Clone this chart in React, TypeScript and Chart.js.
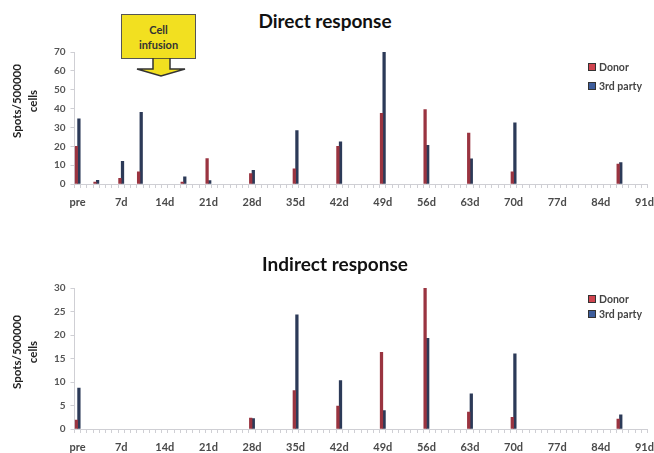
import React, { useEffect, useRef } from "react";
import { Chart, registerables } from "chart.js";

Chart.register(...registerables);

// Day index 0 = "pre", then days 1..91
const dayCount = 92;
const dayLabels = Array.from({ length: dayCount }, (_, i) => (i === 0 ? "pre" : `${i}d`));

// Direct response
const directDays = [0, 3, 7, 10, 17, 21, 28, 35, 42, 49, 56, 63, 70, 87];
const directDonor = [20, 1, 3, 6.5, 1, 13.5, 5.5, 8, 20, 37.5, 39.5, 27, 6.5, 10.5];
const directThird = [34.5, 2, 12, 38, 3.8, 1.8, 7.2, 28.3, 22.3, 70, 20.5, 13.3, 32.5, 11.3];

// Indirect response
const indirectDays = [0, 28, 35, 42, 49, 56, 63, 70, 87];
const indirectDonor = [1.9, 2.3, 8.2, 4.9, 16.3, 30.3, 3.6, 2.5, 2.1];
const indirectThird = [8.7, 2.2, 24.3, 10.3, 3.9, 19.3, 7.5, 16, 3];

const directYTicks = [0, 10, 20, 30, 40, 50, 60, 70];
const indirectYTicks = [0, 5, 10, 15, 20, 25, 30];

const seriesNames = ["Donor", "3rd party"];
const DONOR_COLOR = "#9a3440";
const THIRD_COLOR = "#2c3a58";
const FONT = "Lato, 'Open Sans', sans-serif";
const CANVAS_W = 680;

function spread(days: number[], vals: number[]) {
  const out: (number | null)[] = new Array(dayCount).fill(null);
  days.forEach((d, i) => (out[d] = vals[i]));
  return out;
}

function makeConfig(donor: number[], third: number[], days: number[], ticks: number[], xHeight: number, padTop: number): any {
  const max = ticks[ticks.length - 1];
  const step = ticks[1] - ticks[0];
  return {
    type: "bar",
    data: {
      labels: dayLabels,
      datasets: [
        {
          label: seriesNames[0],
          data: spread(days, donor),
          backgroundColor: DONOR_COLOR,
          borderWidth: 0,
          barThickness: 2.6,
          skipNull: true,
        },
        {
          label: seriesNames[1],
          data: spread(days, third),
          backgroundColor: THIRD_COLOR,
          borderWidth: 0,
          barThickness: 2.6,
          skipNull: true,
        },
      ],
    },
    options: {
      animation: false,
      responsive: false,
      layout: { padding: { left: 0, right: CANVAS_W - 647.5, top: padTop, bottom: 0 } },
      plugins: { legend: { display: false }, title: { display: false }, tooltip: { enabled: false } },
      scales: {
        x: {
          grid: {
            display: true,
            drawOnChartArea: false,
            drawTicks: true,
            tickLength: 4,
            color: "#cfcfd4",
            offset: true,
          },
          border: { display: true, color: "#cfcfd4", width: 1 },
          ticks: {
            autoSkip: false,
            maxRotation: 0,
            minRotation: 0,
            padding: 8,
            color: "#4a4a4a",
            font: { family: FONT, size: 11, weight: "bold" },
            callback: (_v: any, i: number) => (i % 7 === 0 ? dayLabels[i] : ""),
          },
          afterFit: (s: any) => {
            s.height = xHeight;
          },
        },
        y: {
          min: 0,
          max: max,
          grid: { display: true, drawOnChartArea: false, drawTicks: true, tickLength: 4, color: "#cfcfd4" },
          border: { display: true, color: "#cfcfd4", width: 1 },
          ticks: {
            stepSize: step,
            padding: 5,
            color: "#555",
            font: { family: FONT, size: 10, weight: "bold" },
          },
          afterFit: (s: any) => {
            s.width = 74.5;
          },
        },
      },
    },
  };
}

function ChartCanvas({ config, top, height }: { config: any; top: number; height: number }) {
  const ref = useRef<HTMLCanvasElement>(null);
  useEffect(() => {
    if (!ref.current) return;
    const c = new Chart(ref.current, config);
    return () => c.destroy();
  }, []);
  return (
    <canvas
      ref={ref}
      width={CANVAS_W}
      height={height}
      style={{ position: "absolute", left: 0, top, width: CANVAS_W, height }}
    />
  );
}

function Legend({ top, gap }: { top: number; gap: number }) {
  const colors = ["#d0444f", "#3d5d9c"];
  return (
    <>
      {seriesNames.map((n, i) => (
        <div
          key={n}
          style={{
            position: "absolute",
            left: 588,
            top: top + i * gap - 7,
            height: 14,
            display: "flex",
            alignItems: "center",
            fontFamily: FONT,
            fontWeight: 700,
            fontSize: 10.5,
            color: "#444",
            whiteSpace: "nowrap",
          }}
        >
          <span
            style={{
              display: "inline-block",
              width: 6,
              height: 6,
              background: colors[i],
              border: "1px solid #333",
              marginRight: 3,
            }}
          />
          {n}
        </div>
      ))}
    </>
  );
}

function YTitle({ cx, cy }: { cx: number; cy: number }) {
  return (
    <div
      style={{
        position: "absolute",
        left: cx - 60,
        top: cy - 17,
        width: 120,
        height: 34,
        transform: "rotate(-90deg)",
        textAlign: "center",
        fontFamily: FONT,
        fontWeight: 700,
        fontSize: 11.5,
        lineHeight: "16px",
        color: "#222",
      }}
    >
      Spots/500000
      <br />
      cells
    </div>
  );
}

export default function App() {
  useEffect(() => {
    document.body.style.margin = "0";
  }, []);
  const topCfg = makeConfig(directDonor, directThird, directDays, directYTicks, 36, 12);
  const botCfg = makeConfig(indirectDonor, indirectThird, indirectDays, indirectYTicks, 24, 18);
  return (
    <div
      style={{
        position: "fixed",
        left: 0,
        top: 0,
        width: 654,
        height: 453,
        overflow: "hidden",
        background: "#fff",
      }}
    >
      <ChartCanvas config={topCfg} top={40} height={180} />
      <ChartCanvas config={botCfg} top={270} height={183} />

      <div
        style={{
          position: "absolute",
          left: 200,
          width: 250,
          top: 9,
          textAlign: "center",
          fontFamily: FONT,
          fontWeight: 700,
          fontSize: 19,
          color: "#111",
        }}
      >
        Direct response
      </div>
      <div
        style={{
          position: "absolute",
          left: 210,
          width: 250,
          top: 252,
          textAlign: "center",
          fontFamily: FONT,
          fontWeight: 700,
          fontSize: 19,
          color: "#111",
        }}
      >
        Indirect response
      </div>

      <YTitle cx={26} cy={101} />
      <YTitle cx={26} cy={352} />

      <Legend top={67} gap={19} />
      <Legend top={299} gap={15} />

      {/* Cell infusion callout */}
      <div
        style={{
          position: "absolute",
          left: 121,
          top: 14,
          width: 75,
          height: 45,
          boxSizing: "border-box",
          background: "#f2e020",
          border: "1px solid #555",
          display: "flex",
          alignItems: "center",
          justifyContent: "center",
          textAlign: "center",
          fontFamily: FONT,
          fontWeight: 700,
          fontSize: 11,
          lineHeight: "15px",
          color: "#333",
        }}
      >
        Cell
        <br />
        infusion
      </div>
      <svg
        width={60}
        height={22}
        style={{ position: "absolute", left: 131, top: 58 }}
        viewBox="0 0 60 22"
      >
        <polygon
          points="22,0 39,0 39,11 54,11 30,18 6,11 22,11"
          fill="#f2e020"
          stroke="#333"
          strokeWidth={1.5}
          strokeLinejoin="miter"
        />
      </svg>
    </div>
  );
}
